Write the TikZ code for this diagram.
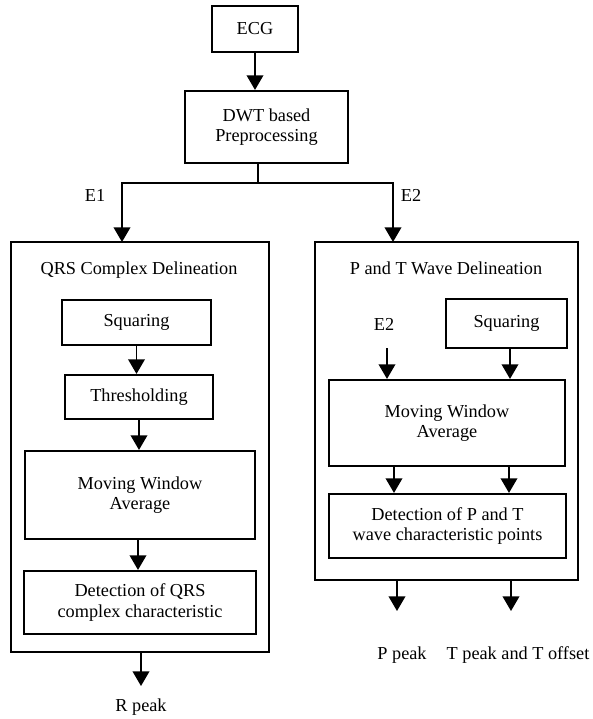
\documentclass[tikz,border=0pt]{standalone}
\usepackage{tikz}
\usetikzlibrary{arrows.meta}
\usepackage{fontspec}
\newfontfamily\diagfont{Liberation Serif}

\begin{document}
\begin{tikzpicture}[x=0.75pt, y=-0.75pt,
        block/.style={rectangle, draw=black, line width=1.6pt, align=center, text=black, inner sep=2pt},
        label/.style={align=center, text=black, inner sep=1pt},
        arr/.style={line width=1.2pt, -{Triangle[width=12.5pt, length=11pt]}},
        every node/.style={font=\diagfont\fontsize{13.7}{15.5}\selectfont}]
        \useasboundingbox (0,0) rectangle (593,719);

        % top of the chain
        \node (ecg) [block, minimum width=64.5pt, minimum height=34.5pt] at (255,29) {ECG};
        \node (dwt) [block, minimum width=122.25pt, minimum height=54pt] at (266.5,127) {DWT based\\Preprocessing};

        % the two delineation boxes
        \node (outL) [block, minimum width=193.5pt, minimum height=307.5pt] at (140,447) {};
        \node (outR) [block, minimum width=197.25pt, minimum height=253.5pt] at (446.5,411) {};

        \node (titleL) [label] at (139,270) {QRS Complex Delineation};
        \node (sqL) [block, minimum width=111.75pt, minimum height=33.75pt] at (136.5,322.5) {Squaring};
        \node (thrL) [block, minimum width=111pt, minimum height=33pt] at (139,397) {Thresholding};
        \node (mwaL) [block, minimum width=172.5pt, minimum height=66pt] at (140,495) {Moving Window\\Average};
        \node (detL) [block, minimum width=174pt, minimum height=47.25pt] at (140,602.5) {Detection of QRS\\complex characteristic};

        \node (titleR) [label] at (446,268) {P and T Wave Delineation};
        \node (e2in) [label] at (384,324) {E2};
        \node (sqR) [block, minimum width=90.75pt, minimum height=36.75pt] at (506.5,323.5) {Squaring};
        \node (mwaR) [block, minimum width=177pt, minimum height=64.5pt] at (447,423) {Moving Window\\Average};
        \node (detR) [block, minimum width=177.75pt, minimum height=48pt] at (447.5,526) {Detection of P and T\\wave characteristic points};

        % labels outside
        \node (e1lab) [label] at (95,195) {E1};
        \node (e2lab) [label] at (411,195) {E2};
        \node (rpeak) [label] at (141,707) {R peak};
        \node (ppeak) [label] at (402,655) {P peak};
        \node (tpeak) [label] at (518,655) {T peak and T offset};

        \coordinate (split) at (258,183);
        \coordinate (e1tip) at (122,242);
        \coordinate (e2tip) at (393,242);
        \coordinate (e2s) at (387,348);
        \coordinate (rtip) at (141,686);
        \coordinate (ptip) at (397,611);
        \coordinate (ttip) at (511,611);

        \draw [arr] (ecg) -- (ecg |- dwt.north);
        \draw [line width=1.2pt] (dwt.south -| split) -- (split);
        \draw [arr] (split) -| (e1tip);
        \draw [arr] (split) -| (e2tip);

        \draw [arr] (sqL) -- (sqL.south |- thrL.north);
        \draw [arr] (thrL) -- (thrL.south |- mwaL.north);
        \draw [arr] (mwaL.south -| 138,0) -- (138,0 |- detL.north);
        \draw [arr] (outL.south -| rtip) -- (rtip);

        \draw [arr] (e2s) -- (e2s |- mwaR.north);
        \draw [arr] (sqR.south -| 510,0) -- (510,0 |- mwaR.north);
        \draw [arr] (mwaR.south -| 394,0) -- (394,0 |- detR.north);
        \draw [arr] (mwaR.south -| 509,0) -- (509,0 |- detR.north);
        \draw [arr] (outR.south -| ptip) -- (ptip);
        \draw [arr] (outR.south -| ttip) -- (ttip);
    \end{tikzpicture}
\end{document}
